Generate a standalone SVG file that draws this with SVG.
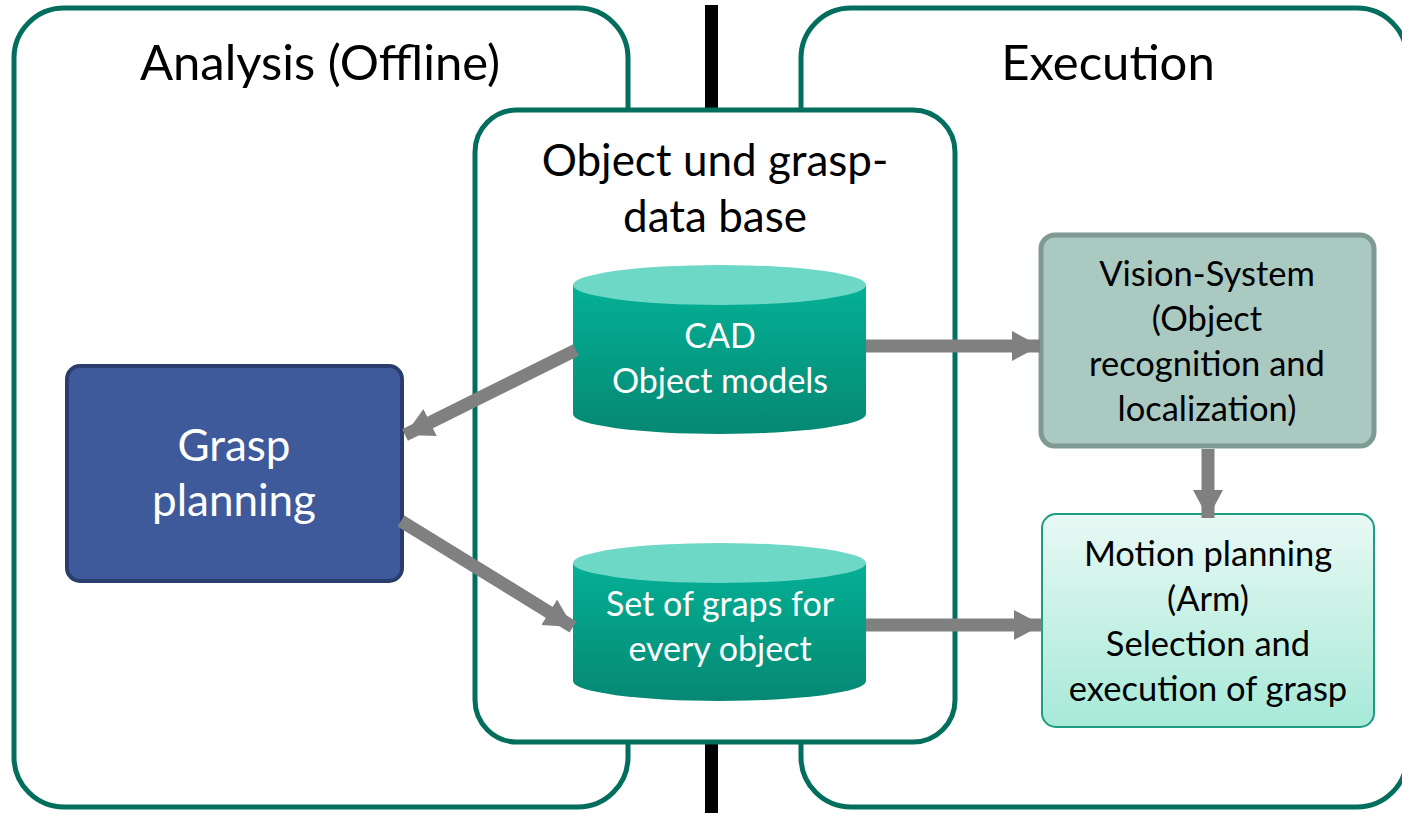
<svg xmlns="http://www.w3.org/2000/svg" width="1402" height="813" viewBox="0 0 1402 813">
<defs>
<style>
text{font-family:Lato,"Open Sans","Liberation Sans",sans-serif;text-anchor:middle}
.panel{fill:#fff;stroke:#036E5E;stroke-width:5}
.title{font-size:49px;fill:#000}
.sub{font-size:44px;fill:#000}
.dbt{font-size:34px;fill:#fff}
.vt{font-size:34.5px;fill:#000}
.conn{stroke:#808080;stroke-width:13;fill:none}
</style>
<linearGradient id="cylBody" x1="0" y1="0" x2="0" y2="1">
<stop offset="0" stop-color="#04B096"/>
<stop offset="1" stop-color="#068873"/>
</linearGradient>
<linearGradient id="motionGrad" x1="0" y1="0" x2="0" y2="1">
<stop offset="0" stop-color="#E8F9F4"/>
<stop offset="1" stop-color="#A7E9D7"/>
</linearGradient>
<marker id="ah" markerUnits="userSpaceOnUse" markerWidth="30" markerHeight="32" viewBox="0 0 30 32" refX="28" refY="16" orient="auto">
<path d="M0,1 L28,16 L0,31 Z" fill="#808080"/>
</marker>
</defs>
<g id="divider">
<rect x="705" y="5" width="13" height="110" fill="#000"/>
<rect x="705" y="738" width="13" height="75" fill="#000"/>
</g>
<g id="analysis">
<rect class="panel" x="14" y="8" width="614" height="799" rx="50"/>
<text class="title" x="320" y="80">Analysis (Offline)</text>
</g>
<g id="execution">
<rect class="panel" x="801" y="8" width="606" height="799" rx="50"/>
<text class="title" x="1108" y="80">Execution</text>
</g>
<g id="database">
<rect class="panel" x="475" y="110" width="480" height="632" rx="42"/>
<text class="sub" x="715" y="176">Object und grasp-</text>
<text class="sub" x="715" y="232">data base</text>
</g>
<g id="cad">
<path d="M573,285 V414 A146.5,20 0 0 0 866,414 V285 Z" fill="url(#cylBody)"/>
<ellipse cx="719.5" cy="285" rx="146.5" ry="20" fill="#6DD8C6"/>
<text class="dbt" x="720" y="348">CAD</text>
<text class="dbt" x="720" y="393">Object models</text>
</g>
<g id="grasps">
<path d="M573,563 V681 A146.5,20 0 0 0 866,681 V563 Z" fill="url(#cylBody)"/>
<ellipse cx="719.5" cy="563" rx="146.5" ry="20" fill="#6DD8C6"/>
<text class="dbt" x="720" y="616">Set of graps for</text>
<text class="dbt" x="720" y="661">every object</text>
</g>
<g id="grasp-planning">
<rect x="67" y="366" width="335" height="215" rx="13" fill="#3E5A9A" stroke="#2A3E6E" stroke-width="4"/>
<text style="font-size:44px;fill:#fff" x="234" y="461">Grasp</text>
<text style="font-size:44px;fill:#fff" x="234" y="516">planning</text>
</g>
<g id="vision">
<rect x="1041" y="235" width="333" height="211" rx="14" fill="#AAC9C1" stroke="#7F9A92" stroke-width="5"/>
<text class="vt" x="1207" y="286">Vision-System</text>
<text class="vt" x="1207" y="331">(Object</text>
<text class="vt" x="1207" y="376">recognition and</text>
<text class="vt" x="1207" y="421">localization)</text>
</g>
<g id="motion">
<rect x="1042" y="514" width="332" height="213" rx="14" fill="url(#motionGrad)" stroke="#1C9C83" stroke-width="2"/>
<text class="vt" x="1208" y="566">Motion planning</text>
<text class="vt" x="1208" y="611">(Arm)</text>
<text class="vt" x="1208" y="656">Selection and</text>
<text class="vt" x="1208" y="701">execution of grasp</text>
</g>
<g id="connectors">
<line class="conn" x1="576" y1="350" x2="405" y2="435" marker-end="url(#ah)"/>
<line class="conn" x1="401" y1="521" x2="573" y2="627" marker-end="url(#ah)"/>
<line class="conn" x1="866" y1="346" x2="1040" y2="346" marker-end="url(#ah)"/>
<line class="conn" x1="866" y1="625" x2="1042" y2="625" marker-end="url(#ah)"/>
<line class="conn" x1="1208" y1="449" x2="1208" y2="518" marker-end="url(#ah)"/>
</g>
</svg>
